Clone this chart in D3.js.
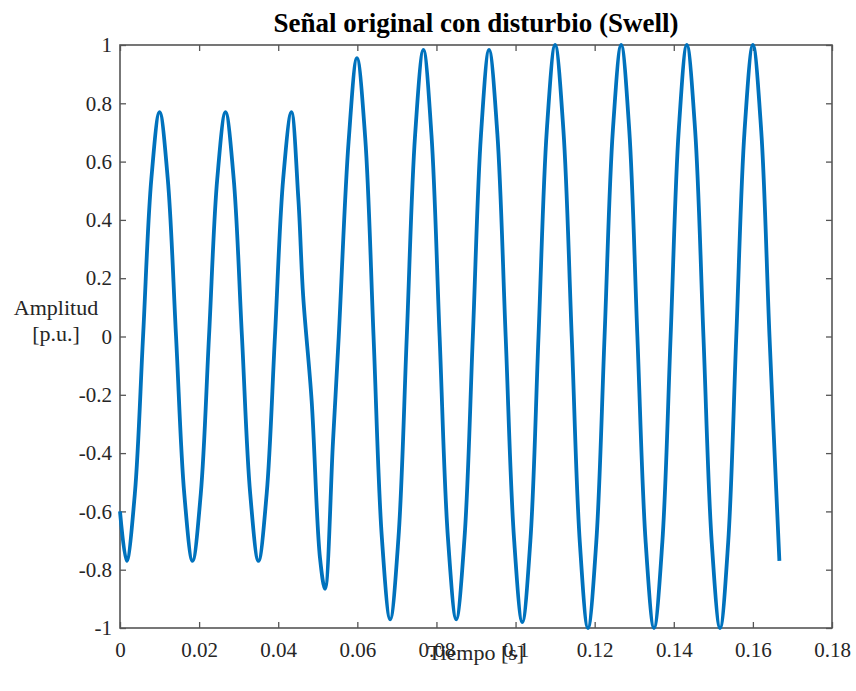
<!DOCTYPE html>
<html>
<head>
<meta charset="utf-8">
<script src="https://cdnjs.cloudflare.com/ajax/libs/d3/7.8.5/d3.min.js"></script>
<style>
  body { margin: 0; background: #fff; }
  text { font-family: "Liberation Serif", "Times New Roman", serif; }
</style>
</head>
<body>
<svg id="chart" width="856" height="691"></svg>
<script>
// tiempo [s] y amplitud [p.u.]
var tiempo = [0, 0.00167, 0.00375, 0.00583, 0.00792, 0.0100, 0.01208, 0.01417, 0.01625, 0.01833,
  0.02042, 0.0225, 0.02458, 0.02667, 0.02875, 0.03083, 0.03292, 0.0350, 0.03708, 0.03917,
  0.04125, 0.04333, 0.0451, 0.0463, 0.04845, 0.05056, 0.05183, 0.05385, 0.0553, 0.0578,
  0.0599, 0.0620, 0.0641, 0.0662, 0.0683, 0.0704, 0.0725, 0.0746, 0.0767, 0.07875,
  0.0808, 0.0829, 0.0850, 0.0871, 0.0892, 0.09125, 0.0933, 0.0954, 0.0975, 0.0996,
  0.1017, 0.10375, 0.1058, 0.1079, 0.1100, 0.1121, 0.1142, 0.11625, 0.1183, 0.1204,
  0.1225, 0.1246, 0.1267, 0.12875, 0.1308, 0.1329, 0.1350, 0.1371, 0.1392, 0.14125,
  0.1433, 0.1454, 0.1475, 0.1496, 0.1517, 0.15375, 0.1558, 0.1579, 0.1600, 0.1621,
  0.1642, 0.1667];
var amplitud = [-0.60, -0.77, -0.54, 0, 0.54, 0.77, 0.54, 0, -0.54, -0.77,
  -0.54, 0, 0.54, 0.77, 0.54, 0, -0.54, -0.77, -0.54, 0,
  0.54, 0.77, 0.47, 0.14, -0.22, -0.76, -0.866, -0.36, 0, 0.67,
  0.955, 0.68, 0, -0.69, -0.97, -0.69, 0, 0.69, 0.983, 0.69,
  0, -0.69, -0.97, -0.69, 0, 0.69, 0.983, 0.695, 0, -0.69,
  -0.98, -0.70, 0, 0.707, 1.0, 0.707, 0, -0.707, -1.0, -0.707,
  0, 0.707, 1.0, 0.707, 0, -0.707, -1.0, -0.707, 0, 0.707,
  1.0, 0.707, 0, -0.707, -1.0, -0.707, 0, 0.707, 1.0, 0.707,
  0, -0.77];
var xTicks = [0, 0.02, 0.04, 0.06, 0.08, 0.1, 0.12, 0.14, 0.16, 0.18];
var yTicks = [-1, -0.8, -0.6, -0.4, -0.2, 0, 0.2, 0.4, 0.6, 0.8, 1];

var margin = {top: 45, right: 24, bottom: 63, left: 120};
var W = 856, H = 691;
var w = W - margin.left - margin.right;
var h = H - margin.top - margin.bottom;
var axisColor = "#555";
var textColor = "#262626";

var svg = d3.select("#chart");
svg.append("rect").attr("width", W).attr("height", H).attr("fill", "#fff");

var g = svg.append("g").attr("transform", "translate(" + margin.left + "," + margin.top + ")");

var x = d3.scaleLinear().domain([0, 0.18]).range([0, w]);
var y = d3.scaleLinear().domain([-1, 1]).range([h, 0]);

var fmt = function(d){ return String(+d.toFixed(2)); };

// ejes estilo MATLAB: caja con marcas hacia adentro
var styleAxis = function(sel, showText){
  sel.select(".domain").remove();
  sel.selectAll(".tick line").attr("stroke", axisColor).attr("stroke-width", 1.3);
  sel.selectAll("text").attr("fill", textColor).style("font-size", "21px");
  if (!showText) sel.selectAll("text").remove();
};

g.append("g").attr("transform", "translate(0," + h + ")")
  .call(d3.axisBottom(x).tickValues(xTicks).tickFormat(fmt).tickSizeInner(-6).tickSizeOuter(0).tickPadding(14))
  .call(styleAxis, true);
g.append("g")
  .call(d3.axisLeft(y).tickValues(yTicks).tickFormat(fmt).tickSizeInner(-6).tickSizeOuter(0).tickPadding(8))
  .call(styleAxis, true);
g.append("g")
  .call(d3.axisTop(x).tickValues(xTicks).tickSizeInner(-6).tickSizeOuter(0))
  .call(styleAxis, false);
g.append("g").attr("transform", "translate(" + w + ",0)")
  .call(d3.axisRight(y).tickValues(yTicks).tickSizeInner(-6).tickSizeOuter(0))
  .call(styleAxis, false);

g.append("rect")
  .attr("width", w).attr("height", h)
  .attr("fill", "none").attr("stroke", axisColor).attr("stroke-width", 1.6);

// senal
var line = d3.line()
  .x(function(d, i){ return x(tiempo[i]); })
  .y(function(d){ return y(d); })
  .curve(d3.curveCatmullRom.alpha(0.5));

g.append("path")
  .datum(amplitud)
  .attr("d", line)
  .attr("fill", "none")
  .attr("stroke", "#0072BD")
  .attr("stroke-width", 3.8)
  .attr("stroke-linejoin", "round");

// textos
svg.append("text")
  .attr("x", margin.left + w / 2).attr("y", 32)
  .attr("text-anchor", "middle")
  .style("font-size", "27px").style("font-weight", "bold")
  .attr("fill", "#000")
  .text("Señal original con disturbio (Swell)");

// etiqueta del eje x, en la misma fila que las marcas como en el original
svg.append("text")
  .attr("x", margin.left + w / 2).attr("y", 660)
  .attr("text-anchor", "middle")
  .style("font-size", "22px").attr("fill", textColor)
  .text("Tiempo [s]");

var ylab = svg.append("text")
  .attr("text-anchor", "middle")
  .style("font-size", "22px").attr("fill", textColor);
ylab.append("tspan").attr("x", 56).attr("y", 315).text("Amplitud");
ylab.append("tspan").attr("x", 56).attr("y", 341).text("[p.u.]");
</script>
</body>
</html>
